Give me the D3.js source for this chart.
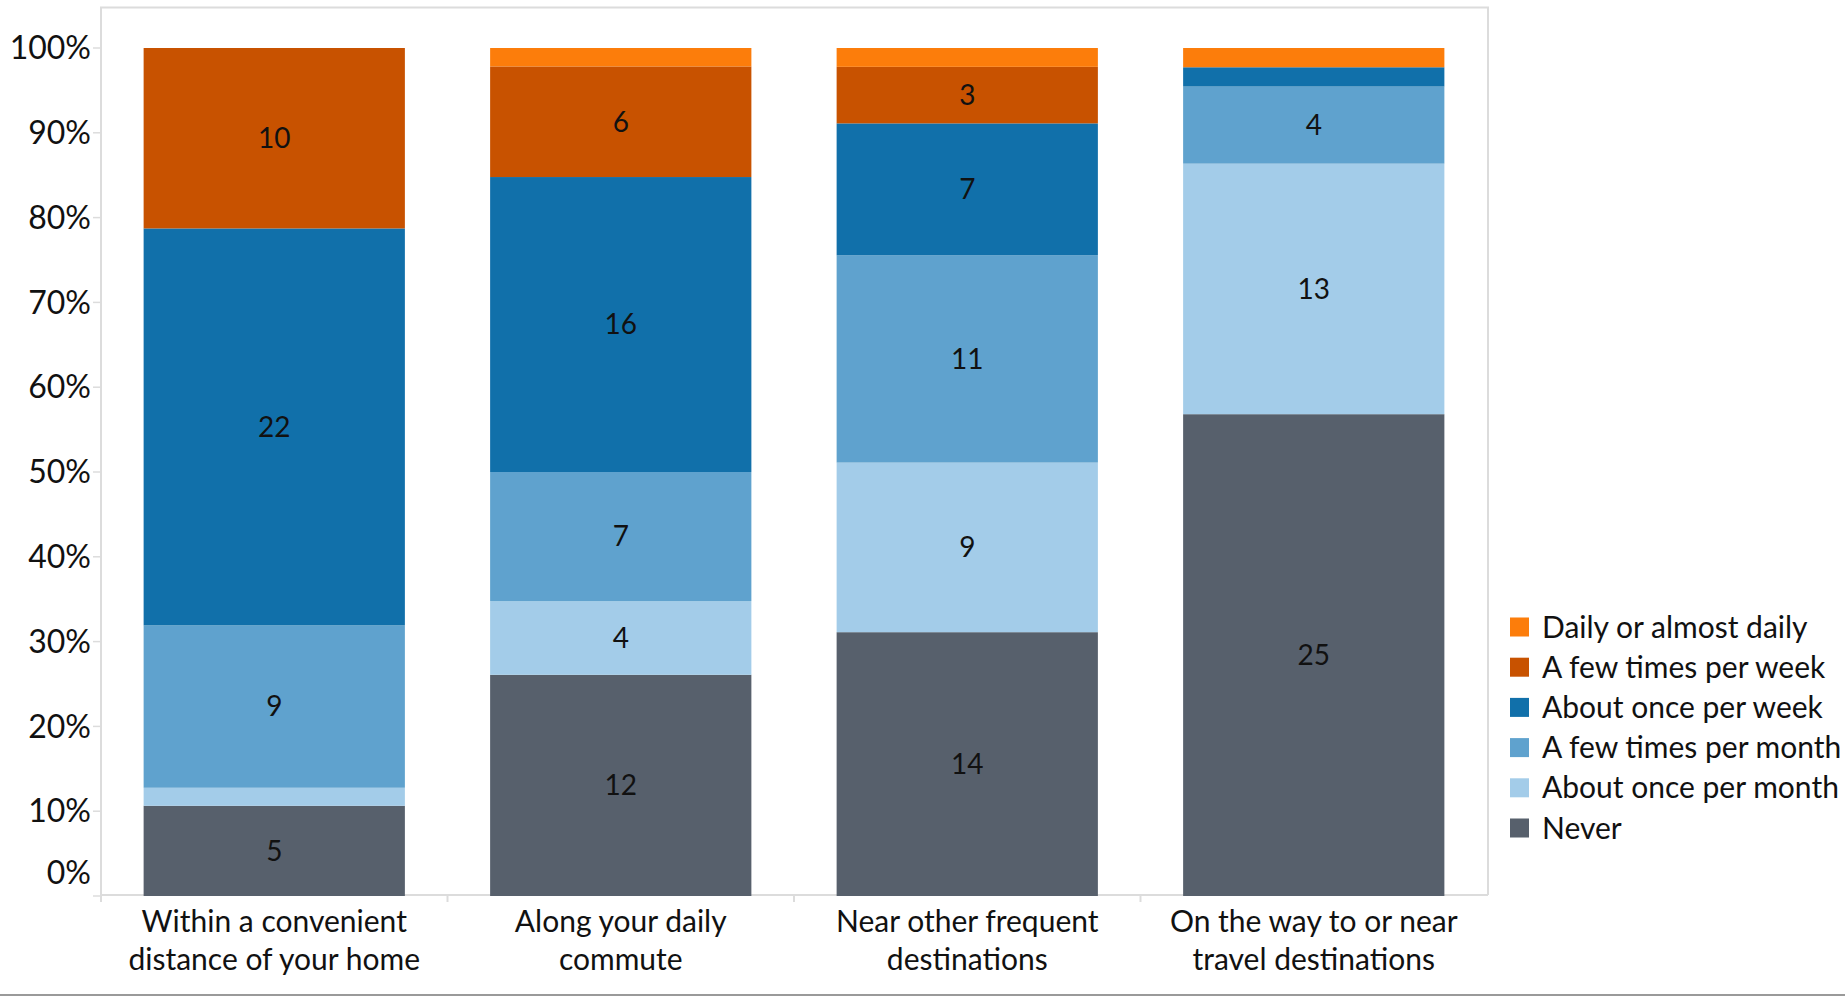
<!DOCTYPE html>
<html>
<head>
<meta charset="utf-8">
<script src="https://cdn.jsdelivr.net/npm/d3@7"></script>
<style>
    body { margin: 0; background: #fff; }
    svg text { font-family: Lato, "Open Sans", sans-serif; fill: #111; }
</style>
</head>
<body>
<div id="chart"></div>
<script>

// Categories (x axis) and frequency groups (stack order, bottom to top)
const categories = [
    "Within a convenient|distance of your home",
    "Along your daily|commute",
    "Near other frequent|destinations",
    "On the way to or near|travel destinations"
];
const frequencies = [
    "Never",
    "About once per month",
    "A few times per month",
    "About once per week",
    "A few times per week",
    "Daily or almost daily"
];
const legend_order = frequencies.slice().reverse();

// Response counts per category, one array per frequency group
const never_counts = [5, 12, 14, 25];
const once_month_counts = [1, 4, 9, 13];
const few_month_counts = [9, 7, 11, 4];
const once_week_counts = [22, 16, 7, 1];
const few_week_counts = [10, 6, 3, 0];
const daily_counts = [0, 1, 1, 1];

const y_ticks = [0, 0.1, 0.2, 0.3, 0.4, 0.5, 0.6, 0.7, 0.8, 0.9, 1];

const series_counts = [never_counts, once_month_counts, few_month_counts, once_week_counts, few_week_counts, daily_counts];

// Build row objects for d3.stack, normalised to shares of each category total
const rows = categories.map((c, i) => {
    const row = { category: c };
    frequencies.forEach((f, j) => row[f] = series_counts[j][i]);
    return row;
});
const stacked = d3.stack()
    .keys(frequencies)
    .offset(d3.stackOffsetExpand)(rows);

const width = 1845, height = 997;
const svg = d3.select("#chart").append("svg")
    .attr("width", width)
    .attr("height", height);

const color = d3.scaleOrdinal()
    .domain(frequencies)
    .range(["#57606c", "#a3cce9", "#5fa2ce", "#1170aa", "#c85200", "#fc7d0b"]);

const x = d3.scaleBand()
    .domain(categories)
    .range([101, 1487])
    .paddingInner(0.246)
    .paddingOuter(0.123);
const y = d3.scaleLinear()
    .domain([0, 1])
    .range([896, 48]);

// Plot frame (left, top, right) and base line
const frame_color = "#dcdcdc";
svg.append("path")
    .attr("d", `M101,902 V7.5 H1488 V895`)
    .attr("fill", "none")
    .attr("stroke", frame_color)
    .attr("stroke-width", 2);
svg.append("line")
    .attr("x1", 101).attr("x2", 1488)
    .attr("y1", 895).attr("y2", 895)
    .attr("stroke", frame_color)
    .attr("stroke-width", 2);

// Separators between categories under the base line
svg.selectAll(".sep")
    .data(categories.slice(1))
    .join("line")
    .attr("class", "sep")
    .attr("x1", d => x(d) - x.step() * x.paddingInner() / 2)
    .attr("x2", d => x(d) - x.step() * x.paddingInner() / 2)
    .attr("y1", 895).attr("y2", 902)
    .attr("stroke", frame_color)
    .attr("stroke-width", 2);

// Y axis ticks and percentage labels
const y_axis = svg.append("g").attr("class", "y-axis");
y_axis.selectAll("line")
    .data(y_ticks)
    .join("line")
    .attr("x1", 93).attr("x2", 101)
    .attr("y1", d => y(d)).attr("y2", d => y(d))
    .attr("stroke", frame_color)
    .attr("stroke-width", 1.5);
y_axis.selectAll("text")
    .data(y_ticks)
    .join("text")
    .attr("x", 91)
    .attr("y", d => y(d) - (d === 0 ? 23 : 0))
    .attr("dy", "0.35em")
    .attr("text-anchor", "end")
    .attr("font-size", "32px")
    .text(d3.format(".0%"));

// Stacked bar segments
const layer = svg.selectAll(".layer")
    .data(stacked)
    .join("g")
    .attr("class", "layer")
    .attr("fill", d => color(d.key));
layer.selectAll("rect")
    .data(d => d)
    .join("rect")
    .attr("x", d => x(d.data.category))
    .attr("width", x.bandwidth())
    .attr("y", d => y(d[1]))
    .attr("height", d => y(d[0]) - y(d[1]));

// Count labels inside segments that are tall enough
layer.selectAll("text")
    .data(d => d.map(s => ({ s, key: d.key })))
    .join("text")
    .filter(d => y(d.s[0]) - y(d.s[1]) > 40)
    .attr("x", d => x(d.s.data.category) + x.bandwidth() / 2)
    .attr("y", d => (y(d.s[0]) + y(d.s[1])) / 2)
    .attr("dy", "0.35em")
    .attr("text-anchor", "middle")
    .attr("font-size", "28px")
    .text(d => d.s.data[d.key]);

// Category labels on two lines
svg.selectAll(".cat-label")
    .data(categories)
    .join("text")
    .attr("class", "cat-label")
    .attr("text-anchor", "middle")
    .attr("font-size", "30px")
    .each(function(d) {
        const lines = d.split("|");
        d3.select(this).selectAll("tspan")
            .data(lines)
            .join("tspan")
            .attr("x", x(d) + x.bandwidth() / 2)
            .attr("y", (l, i) => 921 + i * 38)
            .attr("dy", "0.35em")
            .text(l => l);
    });

// Legend
const legend = svg.selectAll(".legend")
    .data(legend_order)
    .join("g")
    .attr("class", "legend")
    .attr("transform", (d, i) => `translate(1510,${627 + i * 40.2})`);
legend.append("rect")
    .attr("y", -9.5)
    .attr("width", 19)
    .attr("height", 19)
    .attr("fill", d => color(d));
legend.append("text")
    .attr("x", 32)
    .attr("dy", "0.35em")
    .attr("font-size", "30px")
    .text(d => d);

// Bottom edge line of the original figure
svg.append("line")
    .attr("x1", 0).attr("x2", width)
    .attr("y1", 995).attr("y2", 995)
    .attr("stroke", "#9a9a9a")
    .attr("stroke-width", 2);

</script>
</body>
</html>
